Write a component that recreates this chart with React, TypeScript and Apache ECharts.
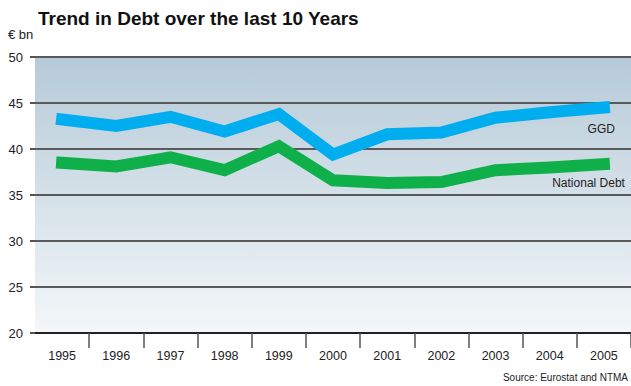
import React, { useEffect, useRef } from "react";
import * as echarts from "echarts";

const years = ["1995", "1996", "1997", "1998", "1999", "2000", "2001", "2002", "2003", "2004", "2005"];
const ggd = [43.2, 42.5, 43.5, 41.9, 43.8, 39.4, 41.6, 41.8, 43.4, 44.0, 44.5];
const nationalDebt = [38.5, 38.1, 39.1, 37.7, 40.3, 36.6, 36.3, 36.4, 37.7, 38.0, 38.35];
const yMin = 20;
const yMax = 50;
const yStep = 5;

const FONT = "'Liberation Sans', Arial, Helvetica, sans-serif";

export default function App() {
  const ref = useRef<HTMLDivElement>(null);

  useEffect(() => {
    document.body.style.margin = "0";
    if (!ref.current) return;
    const chart = echarts.init(ref.current, undefined, { renderer: "svg" });
    const lastYear = years[years.length - 1];
    chart.setOption({
      animation: false,
      textStyle: { fontFamily: FONT },
      title: {
        text: "Trend in Debt over the last 10 Years",
        left: 33,
        top: 4,
        textStyle: { fontSize: 19, fontWeight: "bold", color: "#111", fontFamily: FONT },
      },
      graphic: [
        {
          type: "text",
          left: 8,
          top: 28,
          style: { text: "€ bn", fontSize: 13, fill: "#222", fontFamily: FONT },
        },
        {
          type: "text",
          right: 3,
          bottom: 4,
          style: { text: "Source: Eurostat and NTMA", fontSize: 10, fill: "#222", fontFamily: FONT },
        },
      ],
      grid: {
        left: 35,
        right: 0,
        top: 57,
        bottom: 53,
        show: true,
        borderWidth: 0,
        backgroundColor: new echarts.graphic.LinearGradient(0, 0, 0, 1, [
          { offset: 0, color: "#b5cad8" },
          { offset: 1, color: "#f4f7f9" },
        ]),
      },
      xAxis: {
        type: "category",
        data: years,
        boundaryGap: true,
        axisLine: { lineStyle: { color: "#111", width: 1.5 } },
        axisTick: {
          show: true,
          length: 15,
          interval: (i: number) => i !== 0,
          lineStyle: { color: "#555", width: 1.5 },
        },
        axisLabel: { margin: 16, fontSize: 12.5, color: "#222", fontFamily: FONT },
      },
      yAxis: {
        type: "value",
        min: yMin,
        max: yMax,
        interval: yStep,
        axisLine: { show: false },
        axisTick: { show: true, length: 5, lineStyle: { color: "#555", width: 2 } },
        splitLine: { show: true, lineStyle: { color: "#5a5a5a", width: 2 } },
        axisLabel: { margin: 12, fontSize: 13, color: "#222", fontFamily: FONT },
      },
      series: [
        {
          name: "GGD",
          type: "line",
          data: ggd,
          symbol: "none",
          lineStyle: { color: "#00aeef", width: 12, cap: "square", join: "miter" },
          markPoint: {
            silent: true,
            symbol: "circle",
            symbolSize: 1,
            itemStyle: { color: "rgba(0,0,0,0)" },
            data: [{ coord: [lastYear, ggd[ggd.length - 1]] }],
            label: {
              show: true,
              formatter: "GGD",
              position: "inside",
              align: "right",
              verticalAlign: "middle",
              offset: [11, 21],
              fontSize: 12,
              color: "#222",
              fontFamily: FONT,
            },
          },
        },
        {
          name: "National Debt",
          type: "line",
          data: nationalDebt,
          symbol: "none",
          lineStyle: { color: "#0fb04a", width: 12, cap: "square", join: "miter" },
          markPoint: {
            silent: true,
            symbol: "circle",
            symbolSize: 1,
            itemStyle: { color: "rgba(0,0,0,0)" },
            data: [{ coord: [lastYear, nationalDebt[nationalDebt.length - 1]] }],
            label: {
              show: true,
              formatter: "National Debt",
              position: "inside",
              align: "right",
              verticalAlign: "middle",
              offset: [21, 19],
              fontSize: 12,
              color: "#222",
              fontFamily: FONT,
            },
          },
        },
      ],
    });
    return () => chart.dispose();
  }, []);

  return <div ref={ref} style={{ width: 631, height: 386 }} />;
}
